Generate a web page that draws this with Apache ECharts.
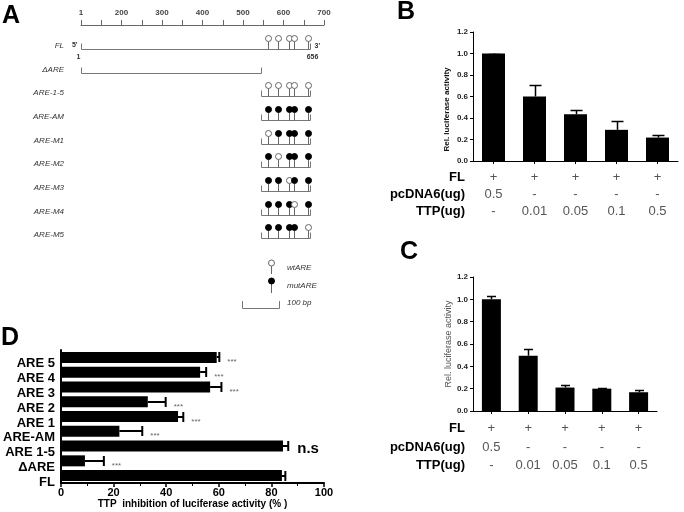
<!DOCTYPE html>
<html><head><meta charset="utf-8">
<script src="https://cdn.jsdelivr.net/npm/echarts@6/dist/echarts.min.js"></script>
<style>html,body{margin:0;padding:0;background:#fff}#c{width:684px;height:512px}</style>
</head><body><div id="c"></div>
<script>
// ---------- Panel A: construct map (axis units, 100 = "1") ----------
const scaleLabelMap = {100:'1',200:'200',300:'300',400:'400',500:'500',600:'600',700:'700'};
const constructNames = ['FL','ΔARE','ARE-1-5','ARE-AM','ARE-M1','ARE-M2','ARE-M3','ARE-M4','ARE-M5'];
const constructStart = [100,100,544,544,544,544,544,544,544];
const constructEnd   = [665,544,665,665,665,665,665,665,665];
const arePositions   = [562,586,614,626,660];
const areStates      = ['wwwww','','wwwww','mmmmm','wmmmm','mwmmm','mmwmm','mmmwm','mmmmw'];
const flEndLabels    = ['1','656'];
const flStrandLabels = ["5'","3'"];
const legendLabels   = ['wtARE','mutARE','100 bp'];

// ---------- Panel B ----------
const rowNames = ['FL','pcDNA6(ug)','TTP(ug)'];
const rowFL  = ['+','+','+','+','+'];
const rowPc  = ['0.5','-','-','-','-'];
const rowTTP = ['-','0.01','0.05','0.1','0.5'];
const bMean   = [1.0, 0.60, 0.435, 0.29, 0.218];
const bErrTop = [1.0, 0.705, 0.472, 0.368, 0.243];

// ---------- Panel C ----------
const cMean   = [1.0, 0.495, 0.21, 0.2, 0.168];
const cErrTop = [1.032, 0.553, 0.232, 0.208, 0.19];
const yName = 'Rel. luciferase activity';

// ---------- Panel D ----------
const dCats   = ['ARE 5','ARE 4','ARE 3','ARE 2','ARE 1','ARE-AM','ARE 1-5','ΔARE','FL'];
const dMean   = [59.2, 52.9, 56.7, 33.0, 44.5, 22.2, 84.4, 9.1, 84.0];
const dErrTop = [60.2, 55.2, 61.0, 39.8, 46.5, 30.9, 86.4, 16.3, 85.3];
const dSig    = ['***','***','***','***','***','***','n.s','***',''];
const dTitle  = 'TTP  inhibition of luciferase activity (% )';

const FF = 'Liberation Sans, Arial, Helvetica, sans-serif';
const P = v => Math.round(v) + 0.5;
function seg(x1,y1,x2,y2,color,w){ return {type:'line', shape:{x1:x1,y1:y1,x2:x2,y2:y2}, style:{stroke:color, lineWidth:w||1}}; }

const chart = echarts.init(document.getElementById('c'));

function rowAxis(gridIndex, arr, name, offset){
  return {
    type:'category', gridIndex: gridIndex, data: arr.map((_,i)=>String(i)), position:'bottom', offset: offset,
    axisLine:{show:false}, axisTick:{show:false}, splitLine:{show:false},
    axisLabel:{margin:0, interval:0, formatter:(v,i)=>arr[i], color:'#555', fontSize:13, fontFamily:FF},
    name: name, nameLocation:'start', nameGap:8,
    nameTextStyle:{fontWeight:'bold', fontSize:13, color:'#000', fontFamily:FF, align:'right', verticalAlign:'top'}
  };
}

function vErr(capW){
  return function(params, api){
    const i = api.value(0);
    const p1 = api.coord([i, api.value(1)]);
    const p2 = api.coord([i, api.value(2)]);
    const x = P(p1[0]), y2 = P(p2[1]);
    return {type:'group', children:[
      seg(x, p1[1], x, y2, '#000', 1.5),
      seg(x - capW/2, y2, x + capW/2, y2, '#000', 1.5)
    ]};
  };
}

const yBC = (gi, nameGap, bold, nameColor, nameSize, pad) => ({
  type:'value', gridIndex: gi, min:0, max:1.2, interval:0.2,
  axisLine:{show:true, lineStyle:{color:'#000', width:1}},
  axisTick:{show:true, length:3, lineStyle:{color:'#000'}},
  splitLine:{show:false},
  axisLabel:{formatter:v=>v.toFixed(1), fontSize:8, fontWeight:'bold', color:'#222', fontFamily:FF, margin:5},
  name: yName, nameLocation:'middle', nameGap: nameGap,
  nameTextStyle:{fontSize:nameSize, fontWeight: bold?'bold':'normal', color:nameColor, fontFamily:FF, padding:pad}
});

const mainX = (gi) => ({
  type:'category', gridIndex: gi, data:['1','2','3','4','5'],
  axisLine:{show:true, lineStyle:{color:'#000', width:1}},
  axisTick:{show:true, alignWithLabel:true, length:3, lineStyle:{color:'#000'}},
  axisLabel:{show:false}, splitLine:{show:false}
});

const option = {
  animation:false,
  backgroundColor:'#fff',
  grid:[
    {left:81, width:243, top:34, height:213},   // A
    {left:473, right:6, top:32, height:129},    // B
    {left:473, width:184, top:277, height:134}, // C
    {left:61, width:263, top:350, height:133}   // D
  ],
  xAxis:[
    { // 0: A scale
      type:'value', gridIndex:0, position:'top', min:100, max:700, interval:50, offset:9,
      axisLine:{show:true, lineStyle:{color:'#666'}},
      axisTick:{show:true, length:5, lineStyle:{color:'#666'}},
      splitLine:{show:false},
      axisLabel:{margin:8, fontSize:8, fontWeight:'bold', color:'#444', fontFamily:FF,
        formatter:v=>scaleLabelMap[v]||''}
    },
    mainX(1),                                  // 1
    rowAxis(1, rowFL, rowNames[0], 9.5),       // 2
    rowAxis(1, rowPc, rowNames[1], 26.5),      // 3
    rowAxis(1, rowTTP, rowNames[2], 43.5),     // 4
    mainX(2),                                  // 5
    rowAxis(2, rowFL, rowNames[0], 10.5),      // 6
    rowAxis(2, rowPc, rowNames[1], 29.5),      // 7
    rowAxis(2, rowTTP, rowNames[2], 47.5),     // 8
    { // 9: D
      type:'value', gridIndex:3, min:0, max:100, interval:20,
      axisLine:{show:true, lineStyle:{color:'#000', width:2}},
      axisTick:{show:true, length:4, lineStyle:{color:'#000', width:1.5}},
      minorTick:{show:true, splitNumber:2, length:3, lineStyle:{color:'#000'}},
      splitLine:{show:false},
      axisLabel:{margin:4, fontSize:11, fontWeight:'bold', color:'#000', fontFamily:FF},
      name:dTitle, nameLocation:'middle', nameGap:15,
      nameTextStyle:{fontSize:10, fontWeight:'bold', color:'#000', fontFamily:FF}
    }
  ],
  yAxis:[
    { type:'category', gridIndex:0, data:constructNames, inverse:true,
      axisLine:{show:false}, axisTick:{show:false}, splitLine:{show:false},
      axisLabel:{margin:17, fontSize:8, fontStyle:'italic', color:'#333', fontFamily:FF} },
    yBC(1, 22, true, '#111', 8, [0,26,0,0]),
    yBC(2, 16, false, '#555', 9, [0,0,0,0]),
    { type:'category', gridIndex:3, data:dCats, inverse:true,
      axisLine:{show:true, lineStyle:{color:'#000', width:2}},
      axisTick:{show:false}, splitLine:{show:false},
      axisLabel:{margin:6, fontSize:13, fontWeight:'bold', color:'#000', fontFamily:FF, verticalAlign:'top', interval:0} }
  ],
  series:[
    { // Panel A constructs
      type:'custom', xAxisIndex:0, yAxisIndex:0, clip:false,
      data: constructNames.map((n,i)=>[constructStart[i], i, constructEnd[i]]),
      encode:{x:[0,2], y:1},
      renderItem:function(params, api){
        const i = params.dataIndex;
        const s = api.coord([api.value(0), api.value(1)]);
        const e = api.coord([api.value(2), api.value(1)]);
        const yb = P(s[1] + 3);
        const sx = P(s[0]), ex = P(e[0]);
        const g = '#777';
        const ch = [seg(sx, yb, ex, yb, g, 1), seg(sx, yb, sx, yb-6, g, 1), seg(ex, yb, ex, yb-6, g, 1)];
        const st = areStates[i];
        for (let k = 0; k < st.length; k++){
          const x = P(api.coord([arePositions[k], i])[0]);
          ch.push(seg(x, yb, x, yb-8, '#666', 1));
          const mut = st[k] === 'm';
          ch.push({type:'circle', shape:{cx:x, cy:yb-11, r:3},
            style:{fill: mut?'#000':'#fff', stroke: mut?'#000':'#666', lineWidth:1}});
        }
        if (i === 0){
          const ts = {fontSize:7, fontWeight:'bold', fill:'#333', fontFamily:FF};
          ch.push({type:'text', style:Object.assign({text:flStrandLabels[0], x:sx-4, y:yb-4, align:'right', verticalAlign:'middle'}, ts)});
          ch.push({type:'text', style:Object.assign({text:flStrandLabels[1], x:ex+4, y:yb-3, align:'left', verticalAlign:'middle'}, ts)});
          ch.push({type:'text', style:Object.assign({text:flEndLabels[0], x:sx-3, y:yb+8, align:'center', verticalAlign:'middle'}, ts)});
          ch.push({type:'text', style:Object.assign({text:flEndLabels[1], x:ex+2, y:yb+8, align:'center', verticalAlign:'middle'}, ts)});
        }
        return {type:'group', children:ch};
      }
    },
    { type:'bar', xAxisIndex:1, yAxisIndex:1, data:bMean, barWidth:23, itemStyle:{color:'#000'} },
    { type:'custom', xAxisIndex:1, yAxisIndex:1, data:bMean.map((m,i)=>[i, m, bErrTop[i]]),
      encode:{x:0, y:[1,2]}, renderItem:vErr(12) },
    { type:'bar', xAxisIndex:5, yAxisIndex:2, data:cMean, barWidth:19, itemStyle:{color:'#000'} },
    { type:'custom', xAxisIndex:5, yAxisIndex:2, data:cMean.map((m,i)=>[i, m, cErrTop[i]]),
      encode:{x:0, y:[1,2]}, renderItem:vErr(9) },
    { type:'bar', xAxisIndex:9, yAxisIndex:3, data:dMean, barWidth:11, itemStyle:{color:'#000'} },
    { type:'custom', xAxisIndex:9, yAxisIndex:3, clip:false,
      data:dMean.map((m,i)=>[m, i, dErrTop[i]]),
      encode:{x:[0,2], y:1},
      renderItem:function(params, api){
        const i = params.dataIndex;
        const p1 = api.coord([api.value(0), api.value(1)]);
        const p2 = api.coord([api.value(2), api.value(1)]);
        const y = Math.round(p1[1]);
        const ch = [seg(p1[0], y, p2[0], y, '#000', 2), seg(p2[0], y-5, p2[0], y+5, '#000', 2)];
        const sig = dSig[i];
        if (sig === 'n.s'){
          ch.push({type:'text', style:{text:sig, x:p2[0]+9, y:y+3, align:'left', verticalAlign:'middle',
            fontSize:15, fontWeight:'bold', fill:'#000', fontFamily:FF}});
        } else if (sig){
          ch.push({type:'text', style:{text:sig, x:p2[0]+8, y:y+5, align:'left', verticalAlign:'middle',
            fontSize:8, fill:'#666', fontFamily:FF}});
        }
        return {type:'group', children:ch};
      }
    }
  ],
  graphic:[
    {type:'text', left:2, top:4, style:{text:'A', fontSize:25, fontWeight:'bold', fill:'#000', fontFamily:FF}},
    {type:'text', left:397, top:0, style:{text:'B', fontSize:25, fontWeight:'bold', fill:'#000', fontFamily:FF}},
    {type:'text', left:400, top:240, style:{text:'C', fontSize:25, fontWeight:'bold', fill:'#000', fontFamily:FF}},
    {type:'text', left:1, top:326, style:{text:'D', fontSize:25, fontWeight:'bold', fill:'#000', fontFamily:FF}},
    // legend of panel A
    {type:'group', children:[
      {type:'line', shape:{x1:271.5,y1:266,x2:271.5,y2:274}, style:{stroke:'#666', lineWidth:1}},
      {type:'circle', shape:{cx:271.5, cy:263, r:3}, style:{fill:'#fff', stroke:'#666', lineWidth:1}},
      {type:'text', style:{text:legendLabels[0], x:287, y:268, verticalAlign:'middle', fontSize:8, fontStyle:'italic', fill:'#333', fontFamily:FF}},
      {type:'line', shape:{x1:271.5,y1:284,x2:271.5,y2:293}, style:{stroke:'#666', lineWidth:1}},
      {type:'circle', shape:{cx:271.5, cy:281, r:3}, style:{fill:'#000', stroke:'#000', lineWidth:1}},
      {type:'text', style:{text:legendLabels[1], x:287, y:286, verticalAlign:'middle', fontSize:8, fontStyle:'italic', fill:'#333', fontFamily:FF}},
      {type:'polyline', shape:{points:[[242.5,301],[242.5,308.5],[279.5,308.5],[279.5,301]]}, style:{stroke:'#777', lineWidth:1, fill:null}},
      {type:'text', style:{text:legendLabels[2], x:287, y:303, verticalAlign:'middle', fontSize:8, fontStyle:'italic', fill:'#333', fontFamily:FF}}
    ]}
  ]
};
chart.setOption(option);
</script>
</body></html>
